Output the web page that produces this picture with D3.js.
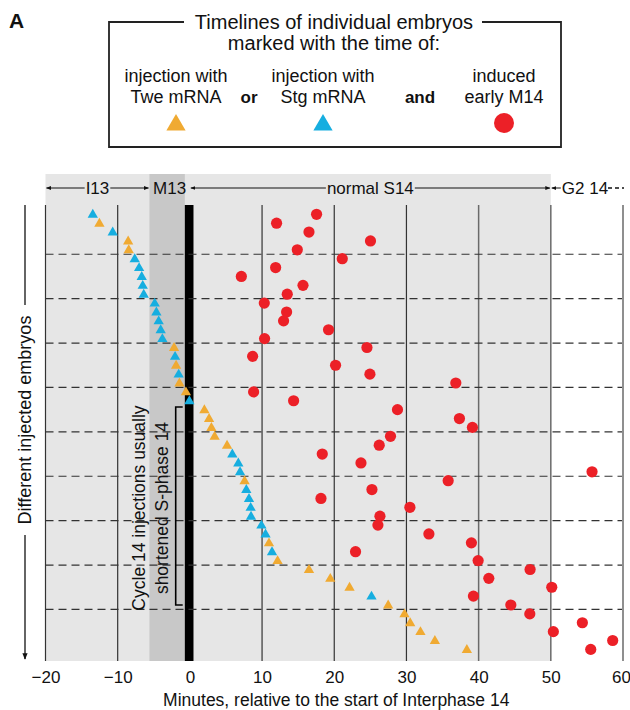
<!DOCTYPE html>
<html>
<head>
<meta charset="utf-8">
<script src="https://cdn.jsdelivr.net/npm/d3@7"></script>
<style>
  body { margin: 0; background: #fff; }
  svg text { font-family: "Liberation Sans", Arial, sans-serif; fill: #111; }
</style>
</head>
<body>
<div id="chart"></div>
<script>
// one row per embryo, top to bottom
var injectMin = [-13.45, -12.53, -10.69, -8.55, -8.47, -7.64, -7.03, -6.67, -6.53, -6.39,
                 -4.87, -4.64, -4.32, -4.04, -3.81, -2.19, -2.05, -1.91, -1.55, -1.45,
                 -0.55, -0.07, 2.01, 2.66, 2.98, 3.43, 5.15, 5.88, 6.71, 6.95,
                 7.58, 7.82, 8.19, 8.42, 8.47, 9.91, 10.48, 10.96, 11.38, 12.15,
                 16.5, 19.45, 22.12, 25.16, 27.47, 29.73, 30.52, 31.94, 33.94, 38.37];
var injectType = ['S','T','S','T','T','S','S','S','S','S',
                  'S','S','S','S','S','T','S','T','S','T',
                  'T','S','T','T','T','T','T','S','S','S',
                  'T','S','S','S','S','S','S','T','S','T',
                  'T','T','T','S','T','T','T','T','T','T'];
var m14Min = [17.55, 12.01, 16.5, 25.02, 14.88, 21.11, 11.88, 7.13, 15.67, 13.49,
              10.31, 13.4, 12.98, 19.21, 10.35, 24.53, 8.69, 20.18, 24.94, 36.84,
              8.83, 14.37, 28.76, 37.34, 39.14, 27.79, 26.23, 18.34, 23.7, 55.71,
              35.78, 25.22, 18.16, 30.48, 26.33, 26.05, 33.11, 39.0, 22.95, 39.93,
              47.13, 41.41, 50.13, 39.28, 44.46, 47.09, 54.37, 50.35, 58.57, 55.53];
var xTicks = [-20, -10, 0, 10, 20, 30, 40, 50, 60];
var gridMin = [-20, -10, 10, 20, 30, 40, 50, 60];
var phases = [
  {label: 'I13', from: -20, to: -5.6},
  {label: 'M13', from: -5.6, to: 0},
  {label: 'normal S14', from: 0, to: 50}
];

var colors = {T: '#f0aa32', S: '#16aee0', M: '#ec2027'};

var width = 630, height = 710;
var svg = d3.select('#chart').append('svg')
    .attr('width', width)
    .attr('height', height);

var yTop = 205, yBottom = 661;

var x = d3.scaleLinear().domain([-20, 60]).range([45.5, 623]);
var y = d3.scalePoint().domain(d3.range(injectMin.length)).range([214.3, 649.4]);
var step = y.step();

// backgrounds
svg.append('rect')
    .attr('x', x(-20)).attr('y', 174)
    .attr('width', x(50) - x(-20)).attr('height', yBottom - 174)
    .style('fill', '#e6e6e6');
svg.append('rect')
    .attr('x', x(-5.6)).attr('y', 174)
    .attr('width', x(-0.7) - x(-5.6)).attr('height', yBottom - 174)
    .style('fill', '#c8c8c8');

// vertical grid
svg.append('g').selectAll('line')
    .data(gridMin)
    .enter().append('line')
    .attr('x1', d => x(d)).attr('x2', d => x(d))
    .attr('y1', yTop).attr('y2', yBottom)
    .style('stroke', d => d >= 40 ? '#6a6a6a' : '#333')
    .style('stroke-width', d => d >= 40 ? 1.5 : 1.2);

// black bar at start of interphase 14
svg.append('rect')
    .attr('x', x(-0.7)).attr('y', yTop)
    .attr('width', x(0.5) - x(-0.7)).attr('height', yBottom - yTop)
    .style('fill', '#000');

// dashed separators every 5 embryos
var sepRows = d3.range(5, injectMin.length, 5);
svg.append('g').selectAll('line')
    .data(sepRows)
    .enter().append('line')
    .attr('x1', x(-20)).attr('x2', 622)
    .attr('y1', d => y(d) - step / 2).attr('y2', d => y(d) - step / 2)
    .style('stroke', '#333')
    .style('stroke-width', 1.2)
    .style('stroke-dasharray', '8,5');

// phase labels with arrows
var phaseG = svg.append('g').attr('class', 'phases');
var defs = svg.append('defs');
defs.append('marker')
    .attr('id', 'ah')
    .attr('viewBox', '0 0 10 10')
    .attr('refX', 9).attr('refY', 5)
    .attr('markerWidth', 5).attr('markerHeight', 5)
    .attr('orient', 'auto-start-reverse')
  .append('path')
    .attr('d', 'M0,1 L10,5 L0,9 Z')
    .style('fill', '#111');

var labY = 188;
phases.forEach(function(p) {
  var x0 = x(p.from) + 1, x1 = x(p.to) - 1;
  var cx = (x0 + x1) / 2;
  var t = phaseG.append('text')
      .attr('x', cx).attr('y', labY)
      .attr('dy', '0.35em')
      .attr('text-anchor', 'middle')
      .style('font-size', '17px')
      .text(p.label);
  var w = t.node().getComputedTextLength() / 2 + 1;
  if (cx - w > x0 + 2) {
    phaseG.append('line')
        .attr('x1', cx - w).attr('x2', x0).attr('y1', labY).attr('y2', labY)
        .style('stroke', '#111').attr('marker-end', 'url(#ah)');
    phaseG.append('line')
        .attr('x1', cx + w).attr('x2', x1).attr('y1', labY).attr('y2', labY)
        .style('stroke', '#111').attr('marker-end', 'url(#ah)');
  }
});
// G2 14 continues past the chart
phaseG.append('line')
    .attr('x1', x(50) + 10).attr('x2', x(50) + 1).attr('y1', labY).attr('y2', labY)
    .style('stroke', '#111').attr('marker-end', 'url(#ah)');
phaseG.append('text')
    .attr('x', x(50) + 11).attr('y', labY).attr('dy', '0.35em')
    .style('font-size', '17px')
    .text('G2 14');
phaseG.append('line')
    .attr('x1', 608).attr('x2', 624).attr('y1', labY).attr('y2', labY)
    .style('stroke', '#111').style('stroke-width', 1.4)
    .style('stroke-dasharray', '4,3');

// bracket + annotation
var brX = 175.7;
svg.append('path')
    .attr('d', 'M' + (brX + 7) + ',407 H' + brX + ' V605 H' + (brX + 7))
    .style('fill', 'none').style('stroke', '#000').style('stroke-width', 1.6);
var ann = svg.append('text')
    .attr('transform', 'translate(150,508) rotate(-90)')
    .attr('text-anchor', 'middle')
    .style('font-size', '17.5px');
ann.append('tspan').attr('x', 0).attr('dy', '-0.3em').text('Cycle 14 injections usually');
ann.append('tspan').attr('x', 0).attr('dy', '1.3em').text('shortened S-phase 14');

// markers
var sym = d3.symbol().type(d3.symbolTriangle).size(46);
svg.append('g').selectAll('path')
    .data(injectMin.map((v, i) => ({v: v, t: injectType[i], i: i})))
    .enter().append('path')
    .attr('d', sym)
    .attr('transform', d => 'translate(' + x(d.v) + ',' + (y(d.i) + 0.5) + ')')
    .style('fill', d => colors[d.t]);

svg.append('g').selectAll('circle')
    .data(m14Min.map((v, i) => ({v: v, i: i})))
    .enter().append('circle')
    .attr('cx', d => x(d.v)).attr('cy', d => y(d.i))
    .attr('r', 5.6)
    .style('fill', colors.M);

// x axis
var xAxis = d3.axisBottom(x).tickValues(xTicks).tickSize(0).tickPadding(10);
var axG = svg.append('g')
    .attr('transform', 'translate(0,' + yBottom + ')')
    .call(xAxis);
axG.select('.domain').remove();
axG.selectAll('text')
    .style('font-size', '17px')
    .style('font-family', '"Liberation Sans", Arial, sans-serif')
    .style('fill', '#111')
    .attr('dx', d => d === 60 ? -2 : 0);

svg.append('text')
    .attr('x', (x(-20) + x(60)) / 2 + 2).attr('y', 706)
    .attr('text-anchor', 'middle')
    .style('font-size', '17.5px')
    .text('Minutes, relative to the start of Interphase 14');

// y label with arrow
svg.append('text')
    .attr('transform', 'translate(25,420) rotate(-90)')
    .attr('text-anchor', 'middle')
    .attr('dy', '0.35em')
    .style('font-size', '18px')
    .text('Different injected embryos');
svg.append('line')
    .attr('x1', 25).attr('x2', 25).attr('y1', 205).attr('y2', 305)
    .style('stroke', '#111').style('stroke-width', 1.3);
svg.append('line')
    .attr('x1', 25).attr('x2', 25).attr('y1', 535).attr('y2', 659)
    .style('stroke', '#111').style('stroke-width', 1.3)
    .attr('marker-end', 'url(#ah)');

// panel letter
svg.append('text')
    .attr('x', 9).attr('y', 28)
    .style('font-size', '21px').style('font-weight', 'bold')
    .text('A');

// legend box
var lg = svg.append('g').attr('class', 'legend');
var bx0 = 109, bx1 = 561, by0 = 22, by1 = 147;
lg.append('path')
    .attr('d', 'M184,' + by0 + ' H' + bx0 + ' V' + by1 + ' H' + bx1 + ' V' + by0 + ' H482')
    .style('fill', 'none').style('stroke', '#222').style('stroke-width', 1.8);
lg.append('text')
    .attr('x', 334).attr('y', by0).attr('dy', '0.35em')
    .attr('text-anchor', 'middle').style('font-size', '20px')
    .text('Timelines of individual embryos');
lg.append('text')
    .attr('x', 334).attr('y', 43).attr('dy', '0.35em')
    .attr('text-anchor', 'middle').style('font-size', '20px')
    .text('marked with the time of:');

var legItems = [
  {x: 176, l1: 'injection with', l2: 'Twe mRNA', key: 'T'},
  {x: 323, l1: 'injection with', l2: 'Stg mRNA', key: 'S'},
  {x: 504, l1: 'induced', l2: 'early M14', key: 'M'}
];
legItems.forEach(function(d) {
  lg.append('text').attr('x', d.x).attr('y', 76).attr('dy', '0.35em')
      .attr('text-anchor', 'middle').style('font-size', '18px').text(d.l1);
  lg.append('text').attr('x', d.x).attr('y', 97).attr('dy', '0.35em')
      .attr('text-anchor', 'middle').style('font-size', '18px').text(d.l2);
  if (d.key === 'M') {
    lg.append('circle').attr('cx', d.x).attr('cy', 123).attr('r', 10)
        .style('fill', colors.M);
  } else {
    lg.append('path')
        .attr('d', d3.symbol().type(d3.symbolTriangle).size(160))
        .attr('transform', 'translate(' + d.x + ',125)')
        .style('fill', colors[d.key]);
  }
});
[{x: 249, t: 'or'}, {x: 420, t: 'and'}].forEach(function(d) {
  lg.append('text').attr('x', d.x).attr('y', 97).attr('dy', '0.35em')
      .attr('text-anchor', 'middle')
      .style('font-size', '17px').style('font-weight', 'bold')
      .text(d.t);
});
</script>
</body>
</html>
